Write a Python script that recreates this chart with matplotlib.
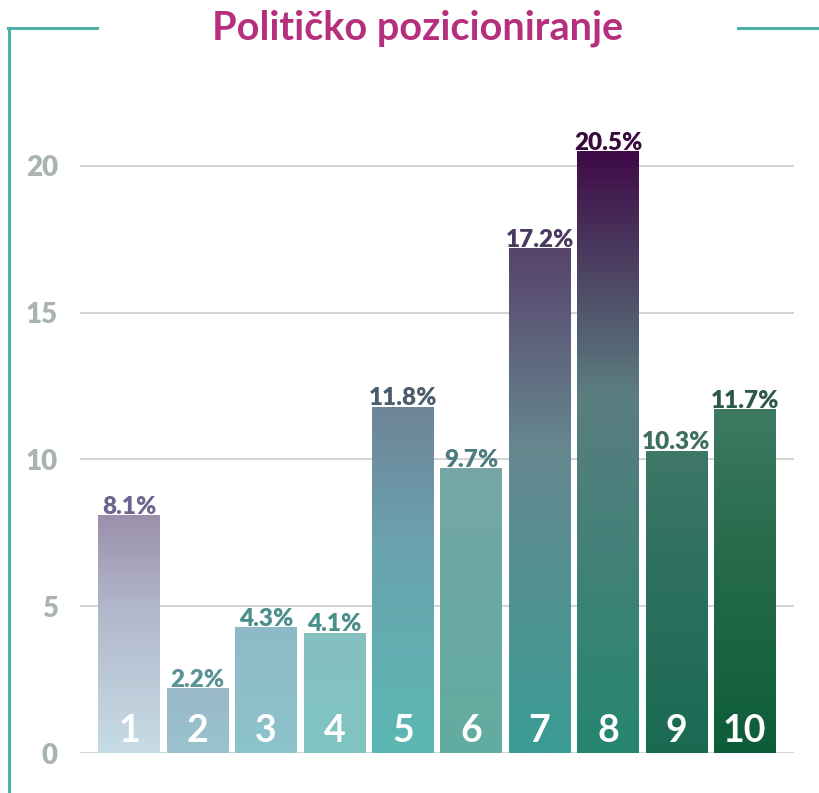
import numpy as np
import matplotlib.pyplot as plt
from matplotlib.colors import LinearSegmentedColormap
from matplotlib.lines import Line2D

categories = ['1', '2', '3', '4', '5', '6', '7', '8', '9', '10']
values = [8.1, 2.2, 4.3, 4.1, 11.8, 9.7, 17.2, 20.5, 10.3, 11.7]
yticks = [0, 5, 10, 15, 20]

# per-bar gradient colours (bottom, middle, top) and label colours
bar_bottoms = ['#c6dce5', '#99c2cf', '#8cc3cb', '#7fc5c2', '#5cb8b4',
               '#62aca0', '#3a9c94', '#258670', '#1a6a52', '#0e5d38']
bar_mids = ['#b2b8cb', '#9abdcb', '#8ebec8', '#83c2c1', '#6aa3ae',
            '#6ca9a3', '#66888f', '#5b7d80', '#2e7060', '#276c4d']
bar_tops = ['#9b90ab', '#9ab9c7', '#8fb9c6', '#86bfc0', '#6f8499',
            '#76a6a6', '#57436c', '#3f0a47', '#3f7768', '#3e7a62']
label_cols = ['#6d6590', '#5b9296', '#4b8f8d', '#4b8f8d', '#4a5c6e',
              '#4f7b80', '#4a3a5f', '#390b3c', '#3e6f5c', '#2d5845']

fig = plt.figure(figsize=(8.19, 7.93), dpi=100)
ax = fig.add_axes([80 / 819, 40 / 793, 714 / 819, 646 / 793])

x = np.arange(1, len(values) + 1)

bars = ax.bar(x, values, width=0.9, color='none', zorder=2)
grad = np.linspace(1, 0, 256).reshape(-1, 1)
for i, b in enumerate(bars):
    cmap = LinearSegmentedColormap.from_list(
        'g%d' % i, [(0, bar_bottoms[i]), (0.6, bar_mids[i]), (1, bar_tops[i])])
    x0, w, h = b.get_x(), b.get_width(), b.get_height()
    im = ax.imshow(grad, cmap=cmap, vmin=0, vmax=1, aspect='auto',
                   extent=[x0, x0 + w, 0, h], zorder=2)
    im.set_clip_path(b)
    ax.text(x[i], h + 0.04, '%.1f%%' % values[i], ha='center', va='baseline',
            fontsize=17.5, fontweight='heavy', family='Lato', color=label_cols[i], zorder=4)
    ax.text(x[i], 0.38, categories[i], ha='center', va='baseline',
            fontsize=27, fontweight='bold', family='Lato', color='white', zorder=4)

ax.set_xlim(0.28, 10.72)
ax.set_ylim(0, 22)
ax.set_yticks(yticks)
ax.set_xticks([])
ax.yaxis.grid(True, color='#c8cdcc', linewidth=1.2, zorder=0)
ax.set_axisbelow(True)
ax.tick_params(axis='y', length=0, pad=16, labelsize=20, labelcolor='#a9b4b1')
for t in ax.get_yticklabels():
    t.set_fontweight('heavy')
    t.set_family('Lato')
for s in ax.spines.values():
    s.set_visible(False)

fig.text(418 / 819, 1 - 28 / 793, 'Političko pozicioniranje', ha='center', va='center',
         fontsize=28.5, fontweight='bold', family='Lato', color='#b52f7c')

teal = '#4db3aa'
yl = 1 - 28 / 793
fig.add_artist(Line2D([9 / 819, 9 / 819], [0, yl], color=teal, lw=2.2))
fig.add_artist(Line2D([8 / 819, 97 / 819], [yl, yl], color=teal, lw=2.2))
fig.add_artist(Line2D([738 / 819, 1], [yl, yl], color=teal, lw=2.2))

plt.savefig('out.png', dpi=100)
